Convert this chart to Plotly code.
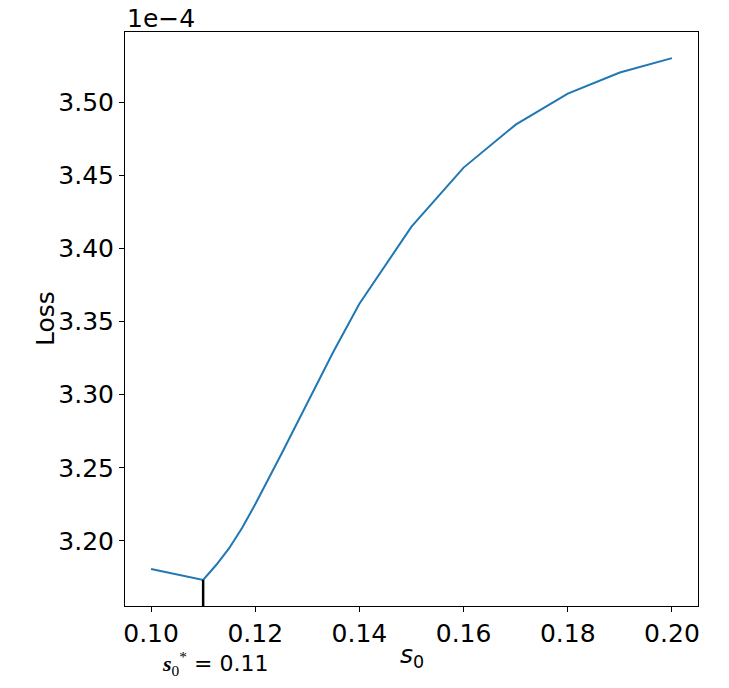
import plotly.graph_objects as go

# s0 values and loss (in units of 1e-4)
s0 = [0.10, 0.11, 0.1125, 0.115, 0.1175, 0.12, 0.125, 0.13, 0.135, 0.14,
      0.15, 0.16, 0.17, 0.18, 0.19, 0.20]
loss = [3.1808, 3.1733, 3.1835, 3.1950, 3.2090, 3.2250, 3.2592, 3.2938, 3.3293, 3.3622,
        3.4149, 3.4553, 3.4847, 3.5059, 3.5203, 3.5302]
s0_star = 0.11
loss_star = 3.1733

x_ticks = [0.10, 0.12, 0.14, 0.16, 0.18, 0.20]
y_ticks = [3.20, 3.25, 3.30, 3.35, 3.40, 3.45, 3.50]

# matplotlib-like 5% margins
xr = max(s0) - min(s0)
yr = max(loss) - min(loss)
x_range = [min(s0) - 0.05 * xr, max(s0) + 0.05 * xr]
y_range = [min(loss) - 0.05 * yr, max(loss) + 0.05 * yr]

FONT = "DejaVu Sans"
FS = 25

fig = go.Figure()
fig.add_trace(go.Scatter(x=s0, y=loss, mode="lines",
                         line=dict(color="#1f77b4", width=2), showlegend=False))
fig.add_trace(go.Scatter(x=[s0_star, s0_star], y=[y_range[0], loss_star], mode="lines",
                         line=dict(color="black", width=2.5), showlegend=False))

axis_common = dict(showline=True, linecolor="black", linewidth=1, mirror=True,
                   ticks="outside", ticklen=5, tickwidth=1, tickcolor="black",
                   showgrid=False, zeroline=False,
                   tickfont=dict(family=FONT, size=FS, color="black"))

fig.update_xaxes(range=x_range, tickvals=x_ticks,
                 ticktext=[f"{v:.2f}" for v in x_ticks], **axis_common)
fig.update_yaxes(range=y_range, tickvals=y_ticks,
                 ticktext=[f"{v:.2f}" for v in y_ticks], **axis_common)

fig.update_layout(
    width=721, height=680,
    margin=dict(l=117, r=31, t=24, b=82),
    plot_bgcolor="white", paper_bgcolor="white",
    font=dict(family=FONT, color="black"),
    annotations=[
        dict(text="1e\u22124", xref="paper", yref="paper", x=0, y=1,
             xanchor="left", yanchor="bottom", showarrow=False, yshift=-3,
             font=dict(family=FONT, size=FS, color="black")),
        dict(text="Loss", xref="paper", yref="paper", x=0, y=0.5, textangle=-90,
             xanchor="center", yanchor="middle", xshift=-80, showarrow=False,
             font=dict(family=FONT, size=FS, color="black")),
        dict(text="<i>s</i><sub>0</sub>", xref="paper", yref="paper", x=0.5, y=0,
             xanchor="center", yanchor="top", yshift=-32, showarrow=False,
             font=dict(family=FONT, size=FS, color="black")),
        dict(text="<span style='font-family:Liberation Serif'><b><i>s</i></b><sub>0</sub><sup>*</sup></span> = 0.11",
             xref="paper", yref="paper", x=0.0, y=0,
             xanchor="left", yanchor="top", xshift=35, yshift=-40, showarrow=False,
             font=dict(family=FONT, size=22, color="black")),
    ],
)

fig.write_html("out.html")
